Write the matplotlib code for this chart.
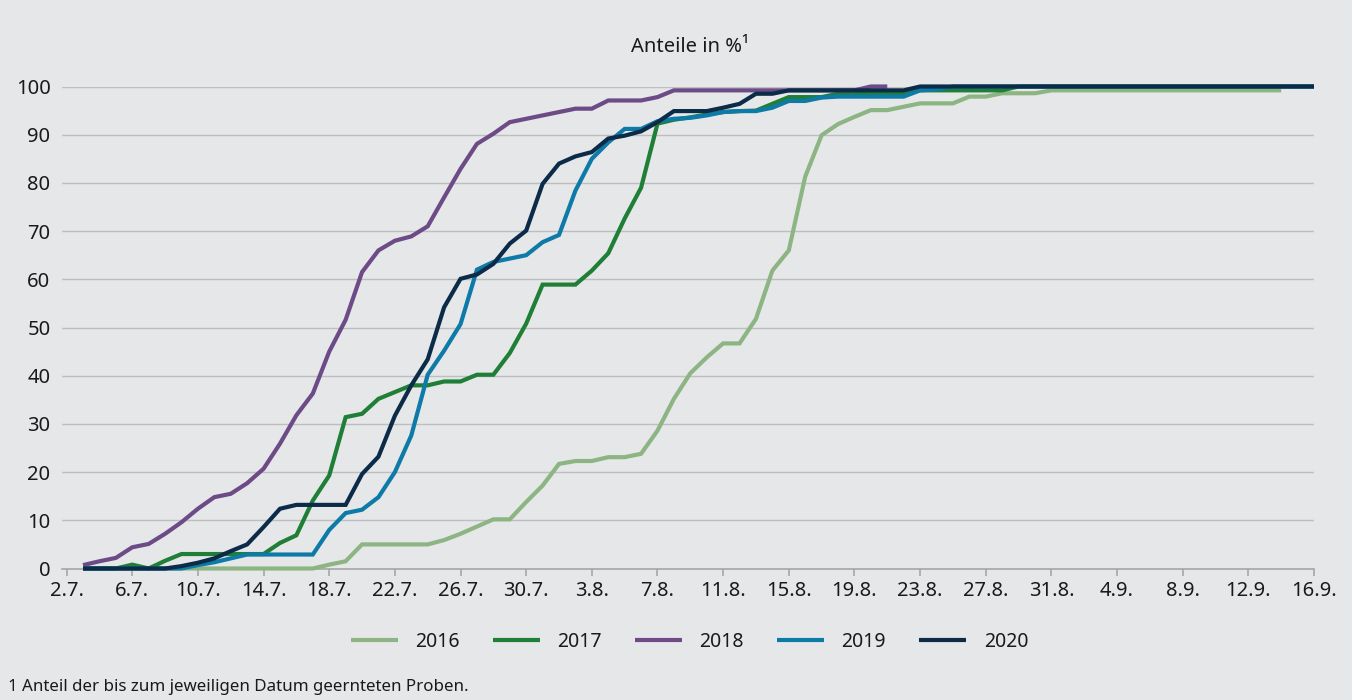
import matplotlib
matplotlib.use("Agg")
import matplotlib.pyplot as plt

plt.rcParams['font.family'] = ['Noto Sans', 'DejaVu Sans']

# Category axis: 2.7. ... 16.9. (daily); data series start on 3.7.
tick_labels = ["2.7.", "6.7.", "10.7.", "14.7.", "18.7.", "22.7.", "26.7.", "30.7.",
               "3.8.", "7.8.", "11.8.", "15.8.", "19.8.", "23.8.", "27.8.", "31.8.",
               "4.9.", "8.9.", "12.9.", "16.9."]
n_days = 77  # 2.7. to 16.9.
first_data_day = 1  # 3.7.

s2016 = [0, 0, 0, 0, 0, 0, 0, 0, 0, 0, 0, 0, 0, 0, 0,
         0.8, 1.5, 5.0, 5.0, 5.0,
         5.0, 5.0, 5.9, 7.2, 8.7,
         10.2, 10.2, 13.8, 17.2, 21.7,
         22.3, 22.3, 23.1, 23.1, 23.8,
         28.6, 35.2, 40.5, 43.8, 46.7,
         46.7, 51.8, 61.8, 66.0, 81.3,
         89.9, 92.2, 93.7, 95.1, 95.1,
         95.8, 96.5, 96.5, 96.5, 97.9,
         97.9, 98.6, 98.6, 98.6, 99.2,
         99.2, 99.2, 99.2, 99.2, 99.2,
         99.2, 99.2, 99.2, 99.2, 99.2,
         99.2, 99.2, 99.2, 99.2]

s2017 = [0, 0, 0, 0.8, 0,
         1.6, 3.0, 3.0, 3.0, 3.0,
         3.0, 3.0, 5.3, 6.9, 14.1,
         19.3, 31.4, 32.1, 35.2, 36.6,
         38.0, 38.0, 38.8, 38.8, 40.2,
         40.2, 44.7, 50.8, 58.9, 58.9,
         58.9, 61.8, 65.4, 72.6, 79.0,
         92.3, 93.1, 93.6, 94.2, 94.7,
         94.9, 95.0, 96.4, 97.8, 97.8,
         97.8, 98.5, 98.5, 98.5, 98.5,
         98.5, 99.2, 99.2, 99.2, 99.2,
         99.2, 99.2, 100, 100, 100,
         100, 100, 100, 100, 100, 100, 100, 100,
         100, 100, 100, 100, 100, 100, 100, 100]

s2018 = [0.7, 1.5, 2.2, 4.4, 5.1,
         7.2, 9.6, 12.4, 14.8, 15.5,
         17.7, 20.7, 25.9, 31.8, 36.3,
         45.0, 51.6, 61.5, 66.0, 68.0,
         68.9, 71.0, 77.0, 82.9, 88.1,
         90.2, 92.6, 93.3, 94.0, 94.7,
         95.4, 95.4, 97.1, 97.1, 97.1,
         97.8, 99.2, 99.2, 99.2, 99.2,
         99.2, 99.2, 99.2, 99.2, 99.2,
         99.2, 99.2, 99.2, 100, 100]

s2019 = [0, 0, 0, 0, 0,
         0, 0, 0.7, 1.3, 2.1,
         2.9, 2.9, 2.9, 2.9, 2.9,
         8.0, 11.5, 12.2, 14.8, 20.0,
         27.6, 40.2, 45.2, 50.7, 62.0,
         63.6, 64.3, 65.0, 67.7, 69.2,
         78.4, 85.0, 88.4, 91.2, 91.2,
         92.8, 93.3, 93.5, 94.0, 94.7,
         94.9, 94.9, 95.6, 97.0, 97.0,
         97.7, 97.9, 97.9, 97.9, 97.9,
         97.9, 99.2, 99.4, 100, 100,
         100, 100, 100, 100, 100, 100, 100,
         100, 100, 100, 100, 100, 100, 100,
         100, 100, 100, 100, 100, 100, 100]

s2020 = [0, 0, 0, 0, 0,
         0, 0.5, 1.2, 2.1, 3.6,
         5.0, 8.6, 12.4, 13.2, 13.2,
         13.2, 13.2, 19.6, 23.2, 31.7,
         38.0, 43.4, 54.2, 60.1, 61.0,
         63.2, 67.4, 70.1, 79.8, 84.0,
         85.5, 86.4, 89.2, 89.8, 90.7,
         92.6, 94.9, 94.9, 94.9, 95.6,
         96.4, 98.5, 98.5, 99.2, 99.2,
         99.2, 99.2, 99.2, 99.2, 99.2,
         99.2, 100, 100, 100, 100,
         100, 100, 100, 100, 100, 100, 100,
         100, 100, 100, 100, 100, 100, 100,
         100, 100, 100, 100, 100, 100, 100]

series = [("2016", s2016, "#8db583"),
          ("2017", s2017, "#1f7f37"),
          ("2018", s2018, "#6c4b87"),
          ("2019", s2019, "#0d7aa8"),
          ("2020", s2020, "#0b2b48")]

bg = "#e6e7e9"
txt = "#1a1a1a"
fig = plt.figure(figsize=(13.52, 7.0), dpi=100, facecolor=bg)
ax = fig.add_axes([61.7 / 1352, 1 - 568.5 / 700, (1314 - 61.7) / 1352, (568.5 - 86.5) / 700])
ax.set_facecolor(bg)

for name, vals, col in series:
    xs = list(range(first_data_day, first_data_day + len(vals)))
    ax.plot(xs, vals, color=col, lw=3.0, label=name, solid_joinstyle='miter',
            solid_capstyle='butt', clip_on=False, zorder=3)

ax.set_xlim(-0.3, n_days - 1)
ax.set_ylim(0, 100)
ax.set_yticks(range(0, 101, 10))
ax.yaxis.grid(True, color="#bdbec0", lw=1.0)
ax.set_axisbelow(True)
ax.set_xticks(range(0, n_days, 4))
ax.set_xticklabels(tick_labels)
for s in ["left", "right", "top"]:
    ax.spines[s].set_visible(False)
ax.spines["bottom"].set_color("#a6a7a9")
ax.spines["bottom"].set_linewidth(1.2)
ax.tick_params(axis="y", length=0, pad=8, labelsize=14.5, labelcolor=txt)
ax.tick_params(axis="x", length=5, width=1.2, color="#a6a7a9", pad=4,
               labelsize=14.5, labelcolor=txt)

fig.text(0.51, 1 - 47 / 700, "Anteile in %\u00b9", ha="center", va="center",
         fontsize=14.5, color=txt)

leg = fig.legend(loc="center", bbox_to_anchor=(0.51, 1 - 642 / 700), ncol=5,
                 frameon=False, fontsize=14, handlelength=2.4,
                 handletextpad=0.9, columnspacing=1.72)
for t in leg.get_texts():
    t.set_color(txt)

fig.text(8 / 1352, 1 - 687 / 700, "1 Anteil der bis zum jeweiligen Datum geernteten Proben.",
         ha="left", va="center", fontsize=12.2, color=txt)

fig.savefig("out.png", dpi=100, facecolor=bg)
